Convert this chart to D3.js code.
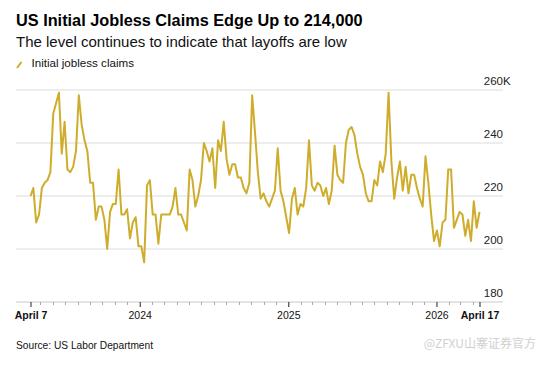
<!DOCTYPE html>
<html>
<head>
<meta charset="utf-8">
<script src="https://cdn.jsdelivr.net/npm/d3@7"></script>
<style>
body { margin:0; background:#fff; }
svg { display:block; font-family:"Liberation Sans", Arial, sans-serif; }
</style>
</head>
<body>
<div class="chart"></div>
<script>
// weekly initial jobless claims, thousands
const claims = [
	220,223,210,213,223,225,226,229,251,255,259,236,248,230,229,231,237,258,247,241,
	237,225,225,211,216,216,211,200,214,217,217,230,213,213,215,204,210,212,201,201,
	195,224,226,213,213,202,213,213,213,213,216,223,213,213,210,207,230,226,216,220,
	226,240,237,233,238,223,241,237,248,234,228,232,232,227,227,223,221,225,258,244,
	229,219,221,218,216,219,222,238,222,218,212,206,219,223,213,217,216,223,241,224,
	222,225,224,220,223,217,222,239,228,226,225,240,245,246,243,236,231,228,221,218,
	218,226,224,233,229,236,259,233,219,227,233,222,231,221,228,228,223,219,216,235,
	225,213,203,207,201,210,211,230,230,208,211,214,213,205,211,203,218,208,214
];
const startDate = new Date(2023, 3, 7);   // April 7, 2023, one point per week
const yTicks = [180, 200, 220, 240, 260];
const xMajorDates = [new Date(2023,3,7), new Date(2024,0,1), new Date(2025,0,1), new Date(2026,0,1), new Date(2026,3,17)];
const xMajorLabels = ["April 7", "2024", "2025", "2026", "April 17"];
const xBoldLabels = ["April 7", "April 17"];

const outWidth = 537, outHeight = 370;
let plot = {left:16, right:503, top:90, bottom:302};
const lineColor = "#cfad2c";

let data = claims.map((v,i)=>({date:d3.timeDay.offset(startDate, 7*i), value:v}));

const svg = d3.select('.chart').append('svg')
	.attr("width", outWidth)
	.attr("height", outHeight);

svg.append("rect").attr("width", outWidth).attr("height", outHeight).attr("fill", "#fff");

let xScale = d3.scaleTime()
	.domain(d3.extent(data, d=>d.date))
	.range([30.5, 479.5]);
let yScale = d3.scaleLinear()
	.domain([180, 260])
	.range([plot.bottom, plot.top]);

// titles
svg.append("text").attr("x", 16).attr("y", 26)
	.attr("font-size", 16.3).attr("font-weight", "bold").attr("fill", "#000")
	.text("US Initial Jobless Claims Edge Up to 214,000");
svg.append("text").attr("x", 16).attr("y", 47)
	.attr("font-size", 15).attr("fill", "#111")
	.text("The level continues to indicate that layoffs are low");

// legend
svg.append("line")
	.attr("x1", 17).attr("y1", 68).attr("x2", 21.5).attr("y2", 62)
	.attr("stroke", lineColor).attr("stroke-width", 2);
svg.append("text").attr("x", 31.5).attr("y", 67)
	.attr("font-size", 11.6).attr("fill", "#111")
	.text("Initial jobless claims");

// gridlines
svg.append("g").selectAll("line")
	.data(yTicks)
	.enter().append("line")
	.attr("x1", plot.left).attr("x2", plot.right)
	.attr("y1", d=>yScale(d)).attr("y2", d=>yScale(d))
	.attr("stroke", d=> d==180 ? "#c8c8c8" : "#dcdcdc")
	.attr("stroke-width", 1);

// y labels, right side, sitting above the gridlines
const yLab = svg.append("g").attr("font-size", 11.5).attr("fill", "#222");
yLab.selectAll("text")
	.data(yTicks)
	.enter().append("text")
	.attr("x", plot.right)
	.attr("y", d=>yScale(d) - 5)
	.attr("text-anchor", "end")
	.text(d=>d);
yLab.append("text")
	.attr("x", plot.right)
	.attr("y", yScale(260) - 5)
	.text("K");

// x axis ticks
let minorDates = d3.timeMonth.range(new Date(2023,4,1), new Date(2026,4,1)).filter(d=>d.getMonth()!=0);
svg.append("g").selectAll("line")
	.data(minorDates)
	.enter().append("line")
	.attr("x1", d=>Math.round(xScale(d))+0.5).attr("x2", d=>Math.round(xScale(d))+0.5)
	.attr("y1", plot.bottom).attr("y2", plot.bottom+3)
	.attr("stroke", "#aaa");

const xAxis = d3.axisBottom(xScale)
	.tickValues(xMajorDates)
	.tickFormat((d,i)=>xMajorLabels[i])
	.tickSize(5)
	.tickPadding(5);
const gx = svg.append("g")
	.attr("transform", `translate(0, ${plot.bottom})`)
	.call(xAxis);
gx.select(".domain").remove();
gx.selectAll(".tick line").attr("stroke", "#222");
gx.selectAll(".tick text")
	.attr("font-family", "Liberation Sans, Arial, sans-serif")
	.attr("font-size", 10.5)
	.attr("fill", "#111")
	.attr("font-weight", (d,i)=> xBoldLabels.includes(xMajorLabels[i]) ? "bold" : "normal");

// the line
const line = d3.line()
	.x(d=>xScale(d.date))
	.y(d=>yScale(d.value));
svg.append("path")
	.datum(data)
	.attr("d", line)
	.attr("fill", "none")
	.attr("stroke", lineColor)
	.attr("stroke-width", 2)
	.attr("stroke-linejoin", "round");

// footer
svg.append("text").attr("x", 16).attr("y", 349)
	.attr("font-size", 10.2).attr("fill", "#111")
	.text("Source: US Labor Department");
svg.append("text").attr("x", 536).attr("y", 348)
	.attr("text-anchor", "end")
	.attr("font-family", "Noto Sans CJK SC, sans-serif")
	.attr("font-size", 12).attr("fill", "#d0d0d0")
	.text("@ZFXU山寨证券官方");
</script>
</body>
</html>
